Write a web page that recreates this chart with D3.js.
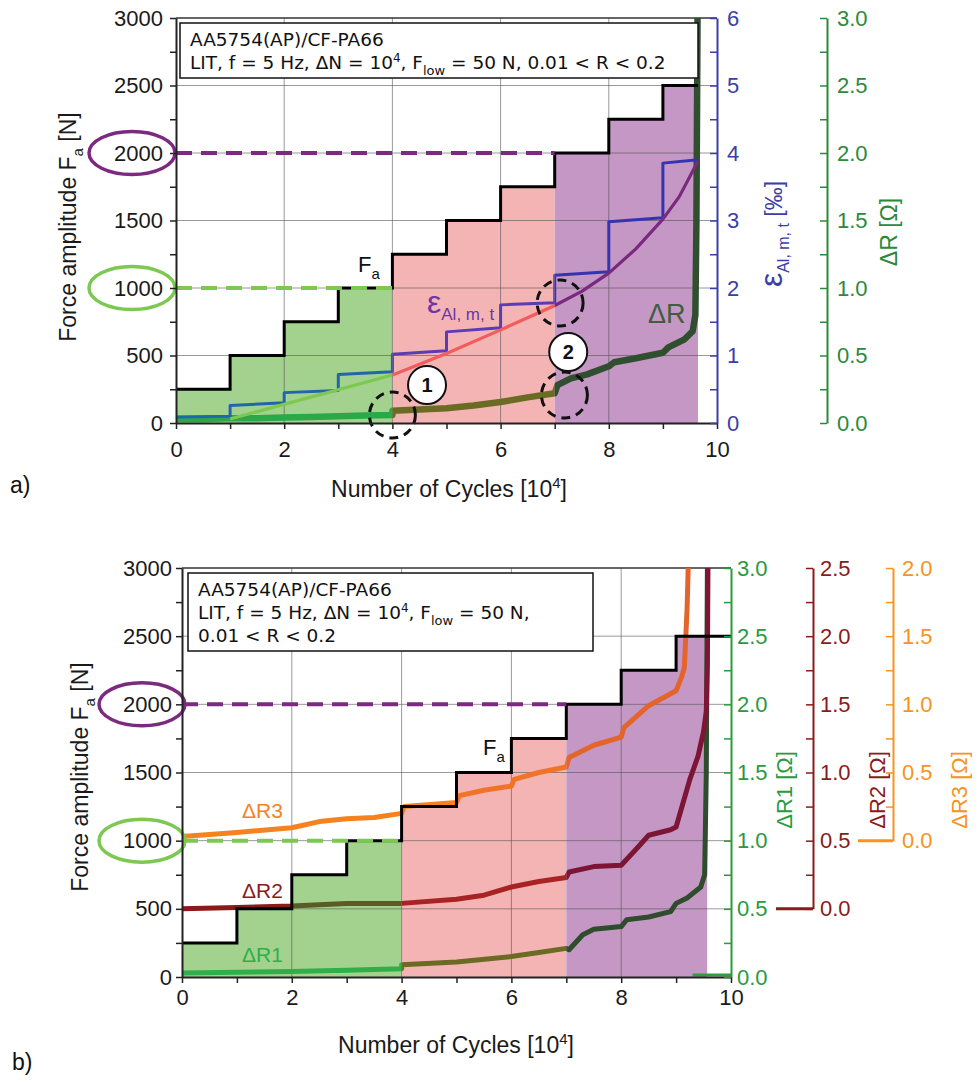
<!DOCTYPE html>
<html lang="en">
<head>
<meta charset="utf-8">
<title>LIT AA5754(AP)/CF-PA66</title>
<script src="https://d3js.org/d3.v7.min.js"></script>
<style>
  body { margin: 0; background: #fff; }
  svg text { font-family: "Liberation Sans", Arial, sans-serif; }
  .tick text { font-size: 22px; }
  .box text { font-family: "DejaVu Sans", Verdana, sans-serif; font-size: 18.5px; fill: #111; }
</style>
</head>
<body>
<svg id="fig" width="978" height="1083"></svg>
<script>
// load blocks of 10^4 cycles and their force amplitude [N]
var blockStart = [0, 1, 2, 3, 4, 5, 6, 7, 8, 9];
var forceAmp = [250, 500, 750, 1000, 1250, 1500, 1750, 2000, 2250, 2500];

// a) strain per block, value at block start / block end [permille]
var epsStart = [0.09, 0.26, 0.45, 0.72, 1.02, 1.35, 1.75, 2.19, 2.98, 3.85];
var epsEnd   = [0.10, 0.30, 0.48, 0.76, 1.07, 1.41, 1.78, 2.24, 3.04, 3.90];
var failA = 9.65;

// a) fitted strain curve
var fitCycles = [1, 4, 5, 6, 7, 7.5, 8, 8.5, 9, 9.3, 9.65];
var fitEps    = [0.06, 0.71, 1.03, 1.38, 1.74, 1.95, 2.22, 2.58, 3.02, 3.35, 3.88];

// a) resistance change [Ohm]
var cyclesA = [0, 0.5, 1, 1.5, 2, 2.5, 3, 3.5, 4, 4.001, 4.5, 5, 5.5, 6, 6.5, 7, 7.05, 7.3, 7.6, 8, 8.1, 8.5, 9, 9.1, 9.4, 9.55, 9.6, 9.62, 9.64];
var deltaRA = [0.03, 0.03, 0.035, 0.035, 0.04, 0.045, 0.05, 0.055, 0.06, 0.09, 0.10, 0.11, 0.13, 0.155, 0.19, 0.22, 0.28, 0.33, 0.36, 0.42, 0.45, 0.48, 0.52, 0.56, 0.62, 0.68, 0.8, 1.5, 3.0];

// b) three resistance channels [Ohm]
var failB = 9.57;
var cyclesR1 = [0, 1, 2, 3, 4, 4.001, 5, 6, 6.5, 7, 7.05, 7.3, 7.5, 8, 8.1, 8.5, 8.9, 9.0, 9.2, 9.45, 9.52, 9.55, 9.57];
var deltaR1  = [0.03, 0.035, 0.04, 0.05, 0.06, 0.09, 0.11, 0.15, 0.18, 0.21, 0.2, 0.31, 0.35, 0.37, 0.42, 0.44, 0.48, 0.54, 0.58, 0.66, 0.75, 1.5, 3.0];
var r1Tail = [9.3, 10];
var cyclesR2 = [0, 1, 2, 3, 4, 5, 5.5, 6, 6.5, 7, 7.05, 7.5, 8, 8.3, 8.5, 8.9, 9.0, 9.25, 9.4, 9.5, 9.55, 9.57, 9.58];
var deltaR2  = [0, 0.01, 0.02, 0.04, 0.04, 0.07, 0.10, 0.16, 0.20, 0.23, 0.27, 0.31, 0.32, 0.45, 0.54, 0.58, 0.60, 0.95, 1.12, 1.3, 1.45, 1.8, 2.5];
var cyclesR3 = [0, 1, 2, 2.5, 3, 3.5, 4, 4.05, 5, 5.05, 5.5, 6, 6.05, 6.5, 7, 7.05, 7.5, 8, 8.05, 8.5, 9, 9.1, 9.15, 9.2, 9.22];
var deltaR3  = [0.03, 0.06, 0.095, 0.14, 0.16, 0.17, 0.2, 0.25, 0.28, 0.33, 0.37, 0.4, 0.45, 0.5, 0.54, 0.61, 0.7, 0.76, 0.83, 0.99, 1.1, 1.2, 1.27, 1.7, 2.0];

var svg = d3.select("#fig");
svg.append("rect").attr("width", 978).attr("height", 1083).attr("fill", "#fff");
var defs = svg.append("defs");
var clipCount = 0;

function zip(a, b) { return a.map(function(v, i) { return [v, b[i]]; }); }

function clipRect(x, x0, x1, top, bottom) {
  var id = "clip" + (clipCount++);
  defs.append("clipPath").attr("id", id).append("rect")
    .attr("x", x(x0)).attr("width", x(x1) - x(x0))
    .attr("y", top - 10).attr("height", bottom - top + 20);
  return "url(#" + id + ")";
}

// draw one series several times, each copy clipped to a cycle range with its own colour
function regionLine(g, x, y, pts, parts, width, top, bottom) {
  var line = d3.line().x(function(d) { return x(d[0]); }).y(function(d) { return y(d[1]); });
  parts.forEach(function(p) {
    g.append("path").attr("d", line(pts))
      .attr("fill", "none").attr("stroke", p[2]).attr("stroke-width", width)
      .attr("stroke-linejoin", "round")
      .attr("clip-path", clipRect(x, p[0], p[1], top, bottom));
  });
}

// text with sub/superscripts: parts = [[text, "sub"|"sup"|null, size]]
function richText(sel, parts, size) {
  var shift = 0;
  parts.forEach(function(p) {
    var t = sel.append("tspan").text(p[0]);
    var target = p[1] === "sub" ? size * 0.3 : p[1] === "sup" ? -size * 0.38 : 0;
    t.attr("dy", target - shift);
    shift = target;
    if (p[1]) t.attr("font-size", p[2] || size * 0.65);
    else if (p[2]) t.attr("font-size", p[2]);
  });
  return sel;
}

function minorFmt(step, fmt) {
  return function(d) { return Math.abs(d / step - Math.round(d / step)) < 1e-6 ? fmt(d) : ""; };
}

function drawBase(g, x, yF, o) {
  var top = yF(3000), bottom = yF(0);
  var fa = blockStart.map(function(b, i) { return [b, forceAmp[i]]; });
  var faLine = fa.concat([[o.faEnd, 2500]]);
  var faFill = fa.concat([[o.fillEnd, 2500]]);
  var area = d3.area().curve(d3.curveStepAfter)
    .x(function(d) { return x(d[0]); }).y0(bottom).y1(function(d) { return yF(d[1]); });
  [[0, 4, "#a3d28f"], [4, 7, "#f5b4b4"], [7, o.fillEnd, "#c497c4"]].forEach(function(r) {
    g.append("path").attr("d", area(faFill)).attr("fill", r[2])
      .attr("clip-path", clipRect(x, r[0], r[1], top, bottom));
  });
  // grid
  [2, 4, 6, 8].forEach(function(v) {
    g.append("line").attr("x1", x(v)).attr("x2", x(v)).attr("y1", top).attr("y2", bottom)
      .attr("stroke", "#555").attr("stroke-opacity", 0.6).attr("stroke-width", 1);
  });
  [500, 1000, 1500, 2000, 2500].forEach(function(v) {
    g.append("line").attr("x1", x(0)).attr("x2", x(10)).attr("y1", yF(v)).attr("y2", yF(v))
      .attr("stroke", "#555").attr("stroke-opacity", 0.6).attr("stroke-width", 1);
  });
  g.append("line").attr("x1", x(0)).attr("x2", x(10)).attr("y1", top).attr("y2", top)
    .attr("stroke", "#333").attr("stroke-width", 1.5);
  return { faLine: faLine, top: top, bottom: bottom };
}

function drawFa(g, x, yF, faLine) {
  g.append("path").attr("d", d3.line().curve(d3.curveStepAfter)
      .x(function(d) { return x(d[0]); }).y(function(d) { return yF(d[1]); })(faLine))
    .attr("fill", "none").attr("stroke", "#000").attr("stroke-width", 3);
}

function drawLimits(g, x, yF, ex) {
  g.append("line").attr("x1", x(0)).attr("x2", x(7)).attr("y1", yF(2000)).attr("y2", yF(2000))
    .attr("stroke", "#7b2a7f").attr("stroke-width", 4).attr("stroke-dasharray", "16,9");
  g.append("line").attr("x1", x(0)).attr("x2", x(4)).attr("y1", yF(1000)).attr("y2", yF(1000))
    .attr("stroke", "#7cc850").attr("stroke-width", 4).attr("stroke-dasharray", "16,9");
  g.append("ellipse").attr("cx", ex).attr("cy", yF(2000)).attr("rx", 43).attr("ry", 21.5)
    .attr("fill", "none").attr("stroke", "#7b2a7f").attr("stroke-width", 3.5);
  g.append("ellipse").attr("cx", ex).attr("cy", yF(1000)).attr("rx", 43).attr("ry", 21.5)
    .attr("fill", "none").attr("stroke", "#7cc850").attr("stroke-width", 3.5);
}

function drawAxesXF(g, x, yF, o) {
  var ax = g.append("g").attr("transform", "translate(0," + yF(0) + ")")
    .call(d3.axisBottom(x).tickValues(d3.range(0, 11)).tickSizeInner(6).tickSizeOuter(0)
      .tickPadding(o.xPad).tickFormat(minorFmt(2, d3.format("d"))));
  var ay = g.append("g").attr("transform", "translate(" + x(0) + ",0)")
    .call(d3.axisLeft(yF).tickValues(d3.range(0, 3001, 250)).tickSizeInner(6).tickSizeOuter(0)
      .tickPadding(o.yPad).tickFormat(minorFmt(500, d3.format("d"))));
  [ax, ay].forEach(function(a) {
    a.select(".domain").attr("stroke", "#222").attr("stroke-width", 2);
    a.selectAll(".tick line").attr("stroke", "#222").attr("stroke-width", 1.5);
    a.selectAll(".tick text").attr("fill", "#1a1a1a");
  });
  richText(g.append("text").attr("transform", "translate(" + o.yTitle[0] + "," + o.yTitle[1] + ") rotate(-90)")
    .attr("text-anchor", "middle").attr("font-size", 23).attr("fill", "#1a1a1a"),
    [["Force amplitude F"], ["a", "sub", 15], [" [N]"]], 23);
  richText(g.append("text").attr("x", o.xTitle[0]).attr("y", o.xTitle[1])
    .attr("text-anchor", "middle").attr("font-size", 23).attr("fill", "#1a1a1a"),
    [["Number of Cycles [10"], ["4", "sup", 15], ["]"]], 23);
}

function rightAxis(g, xPos, scale, step, labelStep, fmt, color, pad) {
  var a = g.append("g").attr("transform", "translate(" + xPos + ",0)")
    .call(d3.axisRight(scale).tickValues(d3.range(0, scale.domain()[1] + 1e-9, step))
      .tickSizeInner(-7).tickSizeOuter(0).tickPadding(pad)
      .tickFormat(minorFmt(labelStep, fmt)));
  a.select(".domain").attr("stroke", color).attr("stroke-width", 2);
  a.selectAll(".tick line").attr("stroke", color).attr("stroke-width", 1.5);
  a.selectAll(".tick text").attr("fill", color);
  return a;
}

function box(g, x0, y0, w, h, lines, tx) {
  var b = g.append("g").attr("class", "box");
  b.append("rect").attr("x", x0).attr("y", y0).attr("width", w).attr("height", h)
    .attr("fill", "#fff").attr("stroke", "#111").attr("stroke-width", 1.5);
  lines.forEach(function(l) {
    richText(b.append("text").attr("x", tx).attr("y", l.y), l.parts, 18.5);
  });
}

var fmt1 = d3.format(".1f");

// ---------------- a) ----------------
(function() {
  var g = svg.append("g");
  var x = d3.scaleLinear().domain([0, 10]).range([176, 717]);
  var yF = d3.scaleLinear().domain([0, 3000]).range([423, 18]);
  var yE = d3.scaleLinear().domain([0, 6]).range([423, 18]);
  var yR = d3.scaleLinear().domain([0, 3]).range([423, 18]);
  var base = drawBase(g, x, yF, { faEnd: failA, fillEnd: failA });

  regionLine(g, x, yR, zip(cyclesA, deltaRA),
    [[-1, 4, "#2ba84a"], [4, 7, "#6b6b24"], [7, 11, "#2f4f2f"]], 6.5, base.top, base.bottom);

  var epsPts = [];
  blockStart.forEach(function(b, i) {
    var e = i < blockStart.length - 1 ? blockStart[i + 1] : failA;
    epsPts.push([b, epsStart[i]], [e, epsEnd[i]]);
  });
  regionLine(g, x, yE, epsPts,
    [[-1, 4, "#2166aa"], [4, 7, "#5a3cb4"], [7, 11, "#3434b0"]], 3, base.top, base.bottom);
  regionLine(g, x, yE, zip(fitCycles, fitEps),
    [[-1, 4, "#7cc850"], [4, 7, "#f25c5c"], [7, 11, "#7a2a7e"]], 3.2, base.top, base.bottom);

  drawFa(g, x, yF, base.faLine);
  drawLimits(g, x, yF, 132);

  // markers of the damage onsets
  [[4, 59], [7.18, 207], [7.1, 889]].forEach(function(c) {
    g.append("circle").attr("cx", x(c[0])).attr("cy", yF(c[1])).attr("r", 23)
      .attr("fill", "none").attr("stroke", "#111").attr("stroke-width", 3).attr("stroke-dasharray", "9,6");
  });
  [["1", 4.64, 281], ["2", 7.25, 526]].forEach(function(c) {
    g.append("circle").attr("cx", x(c[1])).attr("cy", yF(c[2])).attr("r", 19)
      .attr("fill", "#fff").attr("stroke", "#111").attr("stroke-width", 2);
    g.append("text").attr("x", x(c[1])).attr("y", yF(c[2]) + 7).attr("text-anchor", "middle")
      .attr("font-size", 20).attr("font-weight", "bold").attr("fill", "#111").text(c[0]);
  });

  richText(g.append("text").attr("x", 358).attr("y", 272).attr("font-size", 22).attr("fill", "#111"),
    [["F"], ["a", "sub", 15]], 22);
  richText(g.append("text").attr("x", 427).attr("y", 313).attr("font-size", 32).attr("fill", "#6b36a8"),
    [["ε"], ["Al, m, t", "sub", 17]], 24);
  g.append("text").attr("x", 648).attr("y", 323).attr("font-size", 27).attr("fill", "#3f5e3f").text("ΔR");

  drawAxesXF(g, x, yF, { xPad: 12, yPad: 7, yTitle: [76, 227], xTitle: [449, 497] });
  rightAxis(g, x(10), yE, 0.5, 1, d3.format("d"), "#3b3ea8", 10);
  rightAxis(g, 827, yR, 0.25, 0.5, fmt1, "#2a8a3a", 10);
  richText(g.append("text").attr("transform", "translate(782,234) rotate(-90)")
    .attr("text-anchor", "middle").attr("font-size", 23).attr("fill", "#3b3ea8"),
    [["ε", null, 32], ["Al, m, t", "sub", 16], [" [‰]"]], 23);
  g.append("text").attr("transform", "translate(897,232) rotate(-90)")
    .attr("text-anchor", "middle").attr("font-size", 23).attr("fill", "#2a8a3a").text("ΔR [Ω]");

  box(g, 180, 23, 518, 55, [
    { y: 46, parts: [["AA5754(AP)/CF-PA66"]] },
    { y: 69, parts: [["LIT, f = 5 Hz, ΔN = 10"], ["4", "sup", 12], [", F"], ["low", "sub", 13], [" = 50 N, 0.01 < R < 0.2"]] }
  ], 190);

  g.append("text").attr("x", 10).attr("y", 493).attr("font-family", "Liberation Serif")
    .attr("font-size", 23).attr("fill", "#111").text("a)");
})();

// ---------------- b) ----------------
(function() {
  var g = svg.append("g");
  var x = d3.scaleLinear().domain([0, 10]).range([182, 731]);
  var yF = d3.scaleLinear().domain([0, 3000]).range([977, 568]);
  var yR1 = d3.scaleLinear().domain([0, 3]).range([977, 568]);
  var yR2 = d3.scaleLinear().domain([0, 2.5]).range([yF(500), 568]);
  var yR3 = d3.scaleLinear().domain([0, 2]).range([yF(1000), 568]);
  var base = drawBase(g, x, yF, { faEnd: 10, fillEnd: failB });

  regionLine(g, x, yR1, zip(cyclesR1, deltaR1),
    [[-1, 4, "#2fae4a"], [4, 7, "#6b6b24"], [7, 11, "#2d4d2d"]], 5, base.top, base.bottom);
  regionLine(g, x, yR2, zip(cyclesR2, deltaR2),
    [[-1, 2, "#8b1a1a"], [2, 4, "#5b5b26"], [4, 7, "#a82424"], [7, 11, "#7d1535"]], 5, base.top, base.bottom);
  regionLine(g, x, yR3, zip(cyclesR3, deltaR3),
    [[-1, 5, "#f5821f"], [5, 7, "#f07428"], [7, 11, "#e4652c"]], 5, base.top, base.bottom);
  g.append("line").attr("x1", x(r1Tail[0])).attr("x2", x(r1Tail[1]))
    .attr("y1", yR1(0) - 2).attr("y2", yR1(0) - 2).attr("stroke", "#2e9e3e").attr("stroke-width", 3);

  drawFa(g, x, yF, base.faLine);
  drawLimits(g, x, yF, 142);

  richText(g.append("text").attr("x", 483).attr("y", 755).attr("font-size", 22).attr("fill", "#111"),
    [["F"], ["a", "sub", 15]], 22);
  [["ΔR3", 818, "#f5821f"], ["ΔR2", 898, "#8b1a1a"], ["ΔR1", 962, "#2fae4a"]].forEach(function(l) {
    g.append("text").attr("x", 242).attr("y", l[1]).attr("font-size", 21).attr("fill", l[2]).text(l[0]);
  });

  drawAxesXF(g, x, yF, { xPad: 6, yPad: 4, yTitle: [88, 777], xTitle: [456, 1053] });
  rightAxis(g, x(10), yR1, 0.25, 0.5, fmt1, "#2a9a3e", 6);
  rightAxis(g, 813, yR2, 0.25, 0.5, fmt1, "#8b1a1a", 7);
  rightAxis(g, 893, yR3, 0.25, 0.5, fmt1, "#f7931e", 9);
  g.append("line").attr("x1", 776).attr("x2", 813).attr("y1", yR2(0)).attr("y2", yR2(0))
    .attr("stroke", "#8b1a1a").attr("stroke-width", 3);
  g.append("line").attr("x1", 858).attr("x2", 893).attr("y1", yR3(0)).attr("y2", yR3(0))
    .attr("stroke", "#f7931e").attr("stroke-width", 3);
  [["ΔR1 [Ω]", 792, "#2a9a3e"], ["ΔR2 [Ω]", 885, "#8b1a1a"], ["ΔR3 [Ω]", 967, "#f7931e"]].forEach(function(t) {
    g.append("text").attr("transform", "translate(" + t[1] + ",790) rotate(-90)")
      .attr("text-anchor", "middle").attr("font-size", 22).attr("fill", t[2]).text(t[0]);
  });

  box(g, 188, 573, 405, 78, [
    { y: 596, parts: [["AA5754(AP)/CF-PA66"]] },
    { y: 619, parts: [["LIT, f = 5 Hz, ΔN = 10"], ["4", "sup", 12], [", F"], ["low", "sub", 13], [" = 50 N,"]] },
    { y: 642, parts: [["0.01 < R < 0.2"]] }
  ], 198);

  g.append("text").attr("x", 12).attr("y", 1070).attr("font-family", "Liberation Serif")
    .attr("font-size", 23).attr("fill", "#111").text("b)");
})();
</script>
</body>
</html>
